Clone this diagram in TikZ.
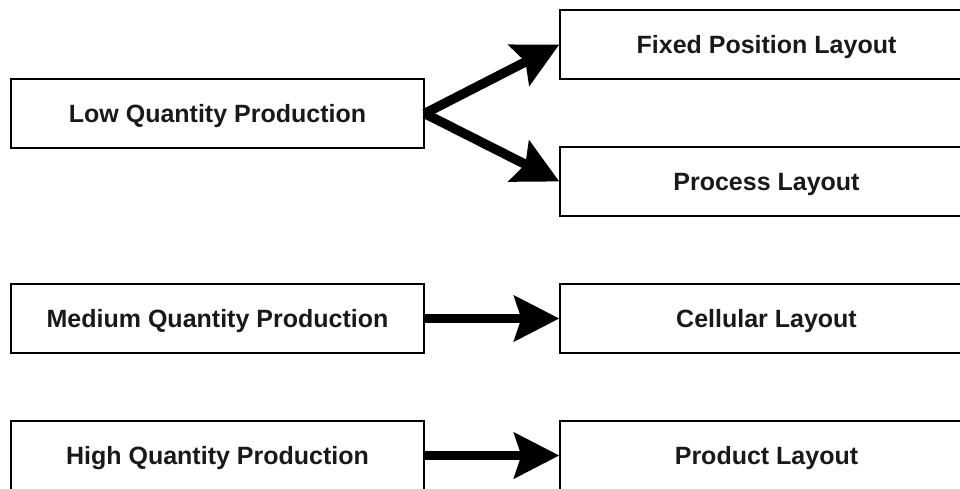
\documentclass[tikz,border=0pt]{standalone}
\usepackage{fontspec}
\setmainfont{Liberation Sans}
\usetikzlibrary{arrows.meta}
\begin{document}
\begin{tikzpicture}[x=1pt,y=-1pt,
  box/.style={draw, line width=1.3pt, minimum width=413pt, minimum height=69pt,
    inner sep=0pt, text height=18pt, text depth=0pt, text=black!90,
    font=\fontsize{25}{30}\selectfont\bfseries},
  conn/.style={line width=9.5pt, -{Stealth[length=45pt,width=45pt,inset=7pt]}}]
\useasboundingbox (0,0) rectangle (960,488);
\node[box] (low) at (217.5,113.5) {Low Quantity Production};
\node[box] (fixed) at (766.5,44.5) {Fixed Position Layout};
\node[box] (process) at (766.5,181.5) {Process Layout};
\node[box] (medium) at (217.5,318.5) {Medium Quantity Production};
\node[box] (cellular) at (766.5,318.5) {Cellular Layout};
\node[box] (high) at (217.5,455.5) {High Quantity Production};
\node[box] (product) at (766.5,455.5) {Product Layout};
\draw[conn] (low.east) -- (fixed.west);
\draw[conn] (low.east) -- (process.west);
\draw[conn] (medium.east) -- (cellular.west);
\draw[conn] (high.east) -- (product.west);
\end{tikzpicture}
\end{document}
